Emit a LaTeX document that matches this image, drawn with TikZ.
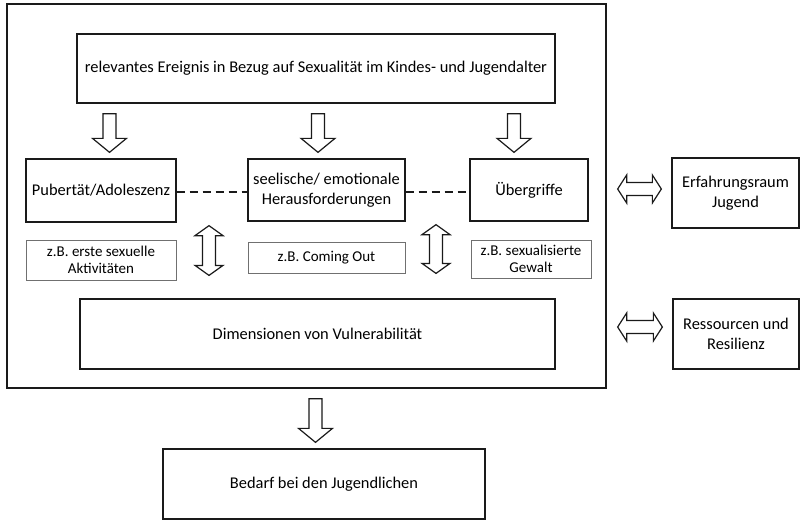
\documentclass[tikz,border=0pt]{standalone}
\usepackage{fontspec}
\setmainfont{Carlito}
\usetikzlibrary{calc}
\definecolor{linie}{HTML}{1A1A1A}
\definecolor{randgrau}{HTML}{707070}

% hollow block arrows, drawn between two nodes
\newcommand{\pfeilrunter}[3]{% x, upper node, lower node
  \draw[blockpfeil] let \p1=(#2.south), \p2=(#3.north) in
    (#1-6.5pt,\y1-10pt) -- (#1+6.5pt,\y1-10pt) -- (#1+6.5pt,\y2+20pt)
    -- (#1+17pt,\y2+20pt) -- (#1,\y2+6pt) -- (#1-17pt,\y2+20pt)
    -- (#1-6.5pt,\y2+20pt) -- cycle;}
\newcommand{\pfeilvert}[3]{% x, upper node, lower node
  \draw[blockpfeil] let \p1=(#2.south), \p2=(#3.south) in
    (#1,\y1-3pt) -- (#1+14pt,\y1-13pt) -- (#1+6.5pt,\y1-13pt)
    -- (#1+6.5pt,\y2+15pt) -- (#1+14pt,\y2+15pt) -- (#1,\y2+5pt)
    -- (#1-14pt,\y2+15pt) -- (#1-6.5pt,\y2+15pt) -- (#1-6.5pt,\y1-13pt)
    -- (#1-14pt,\y1-13pt) -- cycle;}
\newcommand{\pfeilquer}[3]{% left node, right node, y shift
  \draw[blockpfeil] let \p1=(#1.east), \p2=(#2.west), \n1={\y2+#3} in
    (\x1+11pt,\n1) -- (\x1+20pt,\n1+14pt) -- (\x1+20pt,\n1+6.5pt)
    -- (\x2-19pt,\n1+6.5pt) -- (\x2-19pt,\n1+14pt) -- (\x2-10pt,\n1)
    -- (\x2-19pt,\n1-14pt) -- (\x2-19pt,\n1-6.5pt) -- (\x1+20pt,\n1-6.5pt)
    -- (\x1+20pt,\n1-14pt) -- cycle;}

\tikzset{
  kasten/.style={draw=linie, line width=1.3pt, align=center, inner sep=2pt,
    font=\fontsize{16.4}{20}\selectfont},
  beispiel/.style={draw=randgrau, line width=0.8pt, align=center, inner sep=2pt,
    font=\fontsize{15}{17.5}\selectfont},
  blockpfeil/.style={draw=linie, line width=1.2pt, fill=white, line join=miter},
  verbindung/.style={linie, line width=1.4pt, dash pattern=on 8pt off 5pt}
}

\begin{document}
\begin{tikzpicture}[x=1pt, y=-1pt]
  \useasboundingbox (0,0) rectangle (800,522);
  \fill[white] (0,0) rectangle (800,522);

  % outer frame
  \node[draw=linie, line width=1.3pt, minimum width=599pt, minimum height=384pt]
    (rahmen) at (306.5,196) {};

  \node[kasten, minimum width=478pt, minimum height=69pt] (ereignis) at (316,68.5)
    {relevantes Ereignis in Bezug auf Sexualität im Kindes- und Jugendalter};

  % three fields
  \node[kasten, minimum width=150pt, minimum height=63pt] (pubertaet) at (101,190.5)
    {Pubertät/Adoleszenz};
  \node[kasten, minimum width=157pt, minimum height=62pt] (seelisch) at (326.5,190)
    {seelische/ emotionale\\Herausforderungen};
  \node[kasten, minimum width=118pt, minimum height=62pt] (uebergriffe) at (529,190)
    {Übergriffe};

  % examples
  \node[beispiel, minimum width=150pt, minimum height=40pt] (bsp1) at (101,260)
    {z.B. erste sexuelle\\Aktivitäten};
  \node[beispiel, minimum width=157pt, minimum height=31pt] (bsp2) at (326.5,257.5)
    {z.B. Coming Out};
  \node[beispiel, minimum width=120pt, minimum height=38pt] (bsp3) at (531,259)
    {z.B. sexualisierte\\Gewalt};

  \node[kasten, minimum width=475pt, minimum height=70pt] (vulnerabilitaet) at (317.5,334)
    {Dimensionen von Vulnerabilität};

  % outside the frame
  \node[kasten, minimum width=127pt, minimum height=70pt] (erfahrung) at (735.5,193)
    {Erfahrungsraum\\Jugend};
  \node[kasten, minimum width=126pt, minimum height=70pt] (ressourcen) at (736,334)
    {Ressourcen und\\Resilienz};
  \node[kasten, minimum width=322pt, minimum height=70pt] (bedarf) at (324,484)
    {Bedarf bei den Jugendlichen};

  % dashed links
  \draw[verbindung] (pubertaet.east |- 0,192) -- (seelisch.west |- 0,192);
  \draw[verbindung] (seelisch.east |- 0,192) -- (uebergriffe.west |- 0,192);

  % arrows
  \pfeilrunter{109.5pt}{ereignis}{pubertaet}
  \pfeilrunter{318pt}{ereignis}{seelisch}
  \pfeilrunter{514pt}{ereignis}{uebergriffe}
  \pfeilvert{209pt}{pubertaet}{bsp1}
  \pfeilvert{436pt}{seelisch}{bsp3}
  \pfeilquer{rahmen}{erfahrung}{4pt}
  \pfeilquer{rahmen}{ressourcen}{7pt}
  \pfeilrunter{315.5pt}{rahmen}{bedarf}
\end{tikzpicture}
\end{document}
